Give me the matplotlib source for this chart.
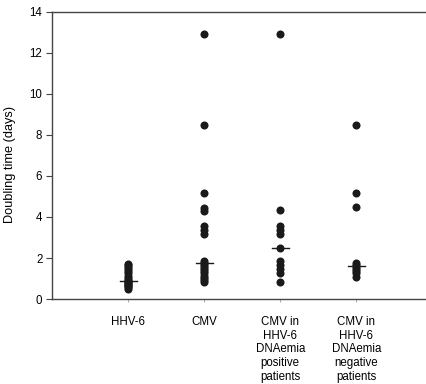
import matplotlib
matplotlib.use('Agg')
import matplotlib.pyplot as plt

plt.rcParams['font.family'] = ['Liberation Sans', 'DejaVu Sans']

# group labels
groups = ['HHV-6', 'CMV', 'CMV in\nHHV-6\nDNAemia\npositive\npatients',
          'CMV in\nHHV-6\nDNAemia\nnegative\npatients']

# doubling times (days)
hhv6 = [1.72, 1.65, 1.55, 1.45, 1.35, 1.25, 1.15, 1.05, 0.95, 0.9,
        0.85, 0.8, 0.75, 0.7, 0.65, 0.6, 0.5]
cmv = [12.9, 8.5, 5.15, 4.45, 4.3, 3.55, 3.35, 3.15, 1.85, 1.75,
       1.65, 1.55, 1.45, 1.35, 1.25, 1.15, 1.05, 0.95, 0.85]
cmv_pos = [12.9, 4.35, 3.55, 3.35, 3.15, 2.5, 1.85, 1.65, 1.45, 1.25, 0.85]
cmv_neg = [8.5, 5.15, 4.5, 1.75, 1.65, 1.55, 1.45, 1.35, 1.25, 1.1]
medians = [0.88, 1.75, 2.48, 1.6]

data = [hhv6, cmv, cmv_pos, cmv_neg]

fig = plt.figure(figsize=(4.27, 3.84), dpi=100)
ax = fig.add_axes([0.122, 0.221, 0.878, 0.749])

for i, vals in enumerate(data):
    x = i + 1
    ax.plot([x] * len(vals), vals, 'o', color='#1a1a1a', markersize=5.8,
            markeredgewidth=0, zorder=3)
    ax.plot([x - 0.11, x + 0.11], [medians[i], medians[i]], color='#1a1a1a',
            linewidth=1.0, zorder=2)

ax.set_xlim(0, 4.93)
ax.set_ylim(0, 14)
ax.set_yticks(range(0, 15, 2))
ax.set_xticks([1, 2, 3, 4])
ax.set_xticklabels(groups, fontsize=8.3, linespacing=1.2, va='top')
ax.tick_params(axis='y', labelsize=8.3, length=4, width=0.8, color='#444444', pad=3)
ax.tick_params(axis='x', length=2, width=0.5, color='#888888', pad=10)
ax.set_ylabel('Doubling time (days)', fontsize=9.2)
ax.yaxis.set_label_coords(-0.095, 0.467)

ax.spines['right'].set_visible(False)
for s in ['left', 'top', 'bottom']:
    ax.spines[s].set_color('#444444')
    ax.spines[s].set_linewidth(1.0)

fig.savefig('out.png', dpi=100)
